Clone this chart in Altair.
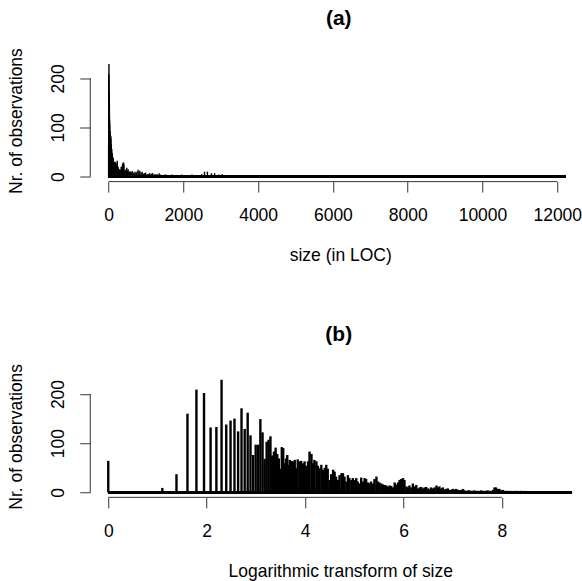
import altair as alt
import numpy as np
import pandas as pd

FONT = "Liberation Sans"

# ---- data -----------------------------------------------------------------
# counts for the smallest sizes (LOC = 1 .. 40)
small_sizes = [1, 2, 3, 4, 5, 6, 7, 8, 9, 10, 11, 12, 13, 14, 15, 16, 17, 18, 19, 20,
               21, 22, 23, 24, 25, 26, 27, 28, 29, 30, 31, 32, 33, 34, 35, 36, 37, 38, 39, 40]
small_counts = [64, 1, 9, 37, 160, 209, 202, 132, 133, 229, 138, 146, 150, 124, 171, 129, 162, 116, 76, 97,
                97, 149, 122, 68, 103, 107, 114, 75, 83, 91, 78, 69, 48, 92, 90, 59, 69, 76, 56, 66]

# dense part: position on the log axis of panel (b) and height of the spikes there
mid_logs = [3.72, 3.75, 3.79, 3.82, 3.85, 3.89, 3.92, 3.96, 3.99, 4.02, 4.06, 4.09, 4.13, 4.16, 4.19,
            4.23, 4.26, 4.29, 4.33, 4.36, 4.40, 4.43, 4.46, 4.50, 4.53, 4.57, 4.60, 4.63, 4.67, 4.70,
            4.74, 4.77, 4.80, 4.84, 4.87, 4.90, 4.94, 4.97, 5.01, 5.04, 5.07, 5.11, 5.14, 5.18, 5.21,
            5.24, 5.28, 5.31, 5.34, 5.38, 5.41, 5.45, 5.48, 5.51, 5.55, 5.58, 5.62, 5.65, 5.68, 5.72]
mid_counts = [64, 63, 66, 49, 67, 63, 64, 59, 63, 54, 63, 83, 78, 59, 66,
              63, 54, 49, 56, 46, 50, 56, 48, 25, 37, 46, 42, 32, 25, 35,
              39, 39, 32, 22, 35, 29, 25, 29, 25, 29, 22, 18, 30, 22, 29,
              27, 20, 18, 22, 18, 27, 32, 22, 20, 18, 16, 15, 14, 12, 14]

high_logs = [5.75, 5.79, 5.82, 5.85, 5.89, 5.92, 5.95, 5.99, 6.02, 6.06, 6.09, 6.12, 6.16, 6.19, 6.23,
             6.26, 6.29, 6.33, 6.36, 6.40, 6.43, 6.46, 6.50, 6.53, 6.56, 6.60, 6.63, 6.67, 6.70,
             6.73, 6.77, 6.80, 6.84, 6.87, 6.90, 6.94, 6.97, 7.00, 7.04, 7.07, 7.11, 7.14, 7.17,
             7.21, 7.24, 7.28, 7.31, 7.34, 7.38, 7.41, 7.44, 7.48, 7.51, 7.55, 7.58, 7.61, 7.65]
high_counts = [13, 10, 20, 16, 20, 25, 27, 29, 25, 12, 10, 14, 10, 18, 12,
               15, 8, 10, 11, 8, 10, 11, 8, 6, 10, 8, 10, 14, 10,
               12, 8, 10, 6, 7, 8, 5, 5, 7, 6, 7, 5, 4, 5,
               7, 4, 3, 4, 4, 3, 3, 4, 3, 3, 3, 4, 3, 3]

tail_logs = [7.68, 7.71, 7.75, 7.78, 7.82, 7.85, 7.88, 7.92, 7.95, 7.99, 8.02, 8.05, 8.09,
             8.12, 8.15, 8.19, 8.22, 8.26, 8.29, 8.32, 8.36, 8.39, 8.43, 8.46, 8.49, 8.53,
             8.60, 8.66, 8.73, 8.80, 8.87, 8.94, 9.00, 9.07, 9.14, 9.21, 9.27, 9.34, 9.41]
tail_counts = [3, 4, 3, 3, 5, 10, 10, 7, 7, 4, 5, 3, 3,
               3, 2, 3, 2, 3, 2, 3, 2, 3, 2, 3, 2, 2,
               2, 1, 2, 1, 2, 1, 1, 2, 1, 1, 1, 1, 1]

x_ticks_a = [0, 2000, 4000, 6000, 8000, 10000, 12000]
x_ticks_b = [0, 2, 4, 6, 8]
y_ticks = [0, 50, 100, 150, 200]

title_a = "(a)"
title_b = "(b)"
xlab_a = "size (in LOC)"
xlab_b = "Logarithmic transform of size"
ylab = "Nr. of observations"

# ---- table -----------------------------------------------------------------
dense_logs = mid_logs + high_logs + tail_logs
dense_counts = mid_counts + high_counts + tail_counts
df = pd.DataFrame({
    "size": small_sizes + [float(np.exp(v)) for v in dense_logs],
    "logsize": [float(np.log(s)) for s in small_sizes] + dense_logs,
    "count": small_counts + dense_counts,
})

W = 485.7
H = 122.1
Y_DOMAIN = [-10.2, 238.2]
DARK = "#333333"


def panel(field, xdomain, xticks, xlab, ptitle, stroke):
    yscale = alt.Scale(domain=Y_DOMAIN, nice=False, zero=False)
    xscale = alt.Scale(domain=xdomain, nice=False, zero=False)
    xaxis = alt.Axis(
        values=xticks, domain=False, grid=False, tickSize=10.5, tickColor=DARK, tickWidth=1,
        labelFont=FONT, labelFontSize=17.5, labelColor="black", labelBaseline="alphabetic",
        labelPadding=28.8, labelFlush=False, labelOverlap=False, labelBound=False,
        title=xlab, titleFont=FONT, titleFontSize=17.5, titleFontWeight="normal",
        titleColor="black", titleX=250, titleY=74.3, titleBaseline="middle", titleAlign="center",
        format="d",
    )
    yaxis = alt.Axis(
        values=y_ticks, domain=False, grid=False, tickSize=10.5, tickColor=DARK, tickWidth=1,
        labelFont=FONT, labelFontSize=17.5, labelColor="black", labelAngle=270,
        labelAlign="center", labelBaseline="alphabetic", labelPadding=16.5,
        labelExpr="datum.value % 100 == 0 ? datum.label : ''",
        labelFlush=False, labelOverlap=False, labelBound=False,
        title=ylab, titleFont=FONT, titleFontSize=17.5, titleFontWeight="normal",
        titleColor="black", titleAngle=270, titleX=-74, titleY=H / 2,
        titleBaseline="middle", titleAlign="center",
    )
    spikes = alt.Chart(df).mark_rule(color="black", strokeWidth=stroke).encode(
        x=alt.X(f"{field}:Q", scale=xscale, axis=xaxis),
        y=alt.Y("count:Q", scale=yscale, axis=yaxis),
        y2=alt.datum(0),
    )
    base = alt.Chart(df).mark_rule(color="black", strokeWidth=2.2).encode(
        x=alt.datum(float(df[field].min())),
        x2=alt.datum(float(df[field].max())),
        y=alt.datum(0),
    )
    dummy = pd.DataFrame({"k": [0]})
    xline = alt.Chart(dummy).mark_rule(color=DARK, strokeWidth=1).encode(
        x=alt.datum(min(xticks)), x2=alt.datum(max(xticks)), y=alt.value(H)
    )
    yline = alt.Chart(dummy).mark_rule(color=DARK, strokeWidth=1).encode(
        y=alt.datum(min(y_ticks)), y2=alt.datum(max(y_ticks)), x=alt.value(0)
    )
    head = alt.Chart(pd.DataFrame({"t": [ptitle]})).mark_text(
        font=FONT, fontSize=21, fontWeight="bold", color="black", align="center", baseline="middle"
    ).encode(text="t:N", x=alt.value(248.5), y=alt.value(-40.6))
    return alt.layer(spikes, base, xline, yline, head).properties(width=W, height=H)


pa = panel("size", [-490, 12500], x_ticks_a, xlab_a, title_a, 1.4)
pb = panel("logsize", [-0.366, 9.504], x_ticks_b, xlab_b, title_b, 2.4)

chart = (
    alt.vconcat(pa, pb, spacing=58.75)
    .properties(padding={"left": 6.25, "top": 7.5, "right": 0, "bottom": 0}, background="white")
    .configure_view(stroke=None)
)

chart.save("out.html", embed_options={"renderer": "svg", "actions": False})
